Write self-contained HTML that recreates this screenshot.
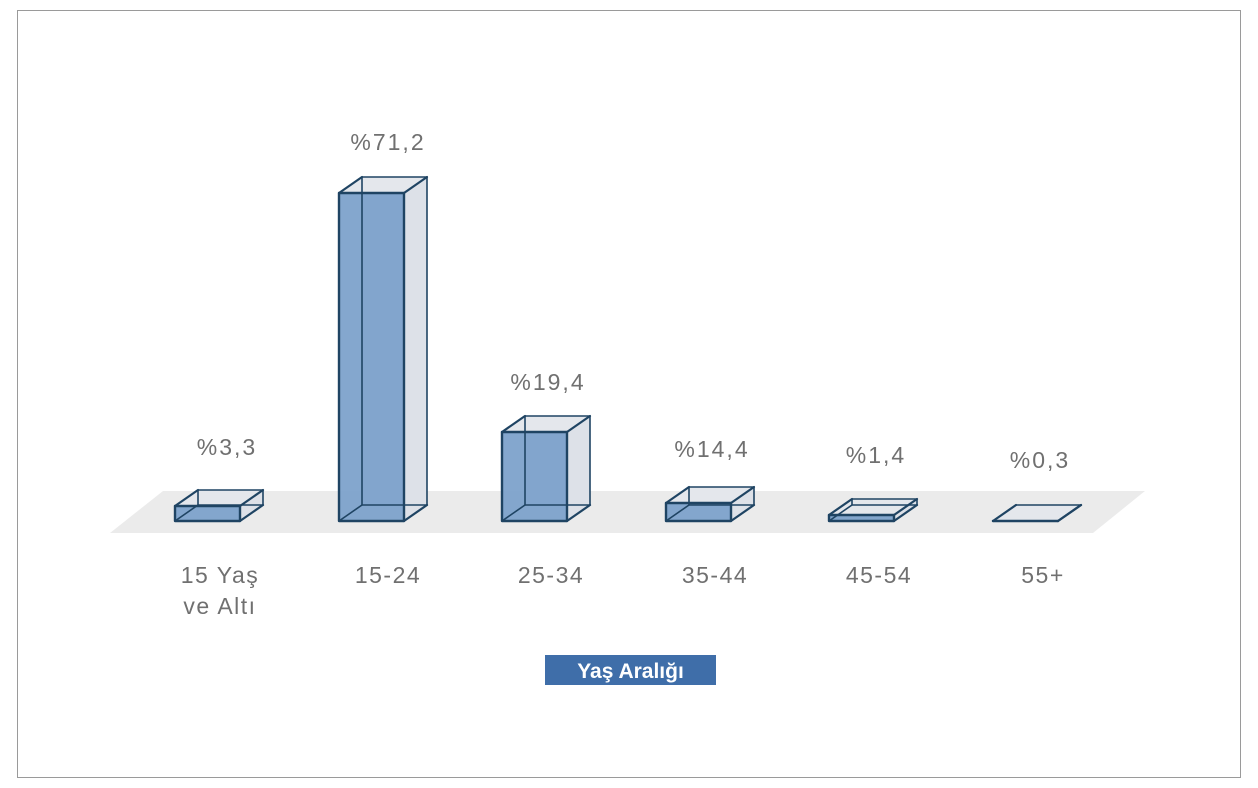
<!DOCTYPE html>
<html><head><meta charset="utf-8"><style>
html,body{margin:0;padding:0;background:#fff;}
svg{display:block;}
text{font-family:"Liberation Sans",sans-serif;}
</style></head><body>
<svg id="s" width="1258" height="788" viewBox="0 0 1258 788" xmlns="http://www.w3.org/2000/svg">
<rect x="17.5" y="10.5" width="1223" height="767" fill="#fff" stroke="#9a9a9a" stroke-width="1"/>
<polygon points="163,491 1145,491 1093,533 110,533" fill="#ebebeb"/>
<g id="bars"></g>
<g fill="#707070" font-size="23" letter-spacing="2" text-anchor="middle">
<text x="227" y="455">%3,3</text>
<text x="388" y="150">%71,2</text>
<text x="548" y="390">%19,4</text>
<text x="712" y="457">%14,4</text>
<text x="876" y="463">%1,4</text>
<text x="1040" y="468">%0,3</text>
</g>
<g fill="#707070" font-size="23" letter-spacing="1.5" text-anchor="middle">
<text x="220" y="583">15 Yaş</text>
<text x="220" y="614">ve Altı</text>
<text x="388" y="583">15-24</text>
<text x="551" y="583">25-34</text>
<text x="715" y="583">35-44</text>
<text x="879" y="583">45-54</text>
<text x="1043" y="583">55+</text>
</g>
<rect x="545" y="655" width="171" height="30" fill="#3f6ea9"/>
<text x="630.5" y="678" fill="#fff" font-size="21" font-weight="bold" text-anchor="middle">Yaş Aralığı</text>
</svg>
<script>
var bars=[[175,506],[339,193],[502,432],[666,503],[829,515],[993,521]];
var dx=23,dy=-16,w=65,b=521,h='';
function poly(p,extra){return '<polygon points="'+p.map(function(q){return q[0]+','+q[1];}).join(' ')+'" '+extra+'/>';}
bars.forEach(function(v){
var x=v[0],t=v[1];
var bx=x+dx, bt=t+dy, bb=b+dy;
var back=[[bx,bt],[bx+w,bt],[bx+w,bb],[bx,bb]];
var front=[[x,t],[x+w,t],[x+w,b],[x,b]];
h+=poly(back,'fill="#e1e4ea"');
h+=poly([[x+w,t],[bx+w,bt],[bx+w,bb],[x+w,b]],'fill="#dde1e8"');
h+=poly([[x,t],[bx,bt],[bx+w,bt],[x+w,t]],'fill="#e4e7ec"');
if(b>t) h+=poly(front,'fill="#7a9fca" fill-opacity="0.92"');
var st='fill="none" stroke="#1f4463" stroke-linejoin="round" stroke-width="';
h+=poly(back,st+'1.6"');
h+=poly(front,st+'2.4"');
h+='<g stroke="#1f4463" stroke-width="2.2" stroke-linecap="round">';
h+='<line x1="'+x+'" y1="'+t+'" x2="'+bx+'" y2="'+bt+'"/>';
h+='<line x1="'+(x+w)+'" y1="'+t+'" x2="'+(bx+w)+'" y2="'+bt+'"/>';
h+='<line x1="'+(x+w)+'" y1="'+b+'" x2="'+(bx+w)+'" y2="'+bb+'"/>';
h+='<line x1="'+x+'" y1="'+b+'" x2="'+bx+'" y2="'+bb+'" stroke-width="1.6"/>';
h+='</g>';
});
document.getElementById('bars').innerHTML=h;
</script>
</body></html>
